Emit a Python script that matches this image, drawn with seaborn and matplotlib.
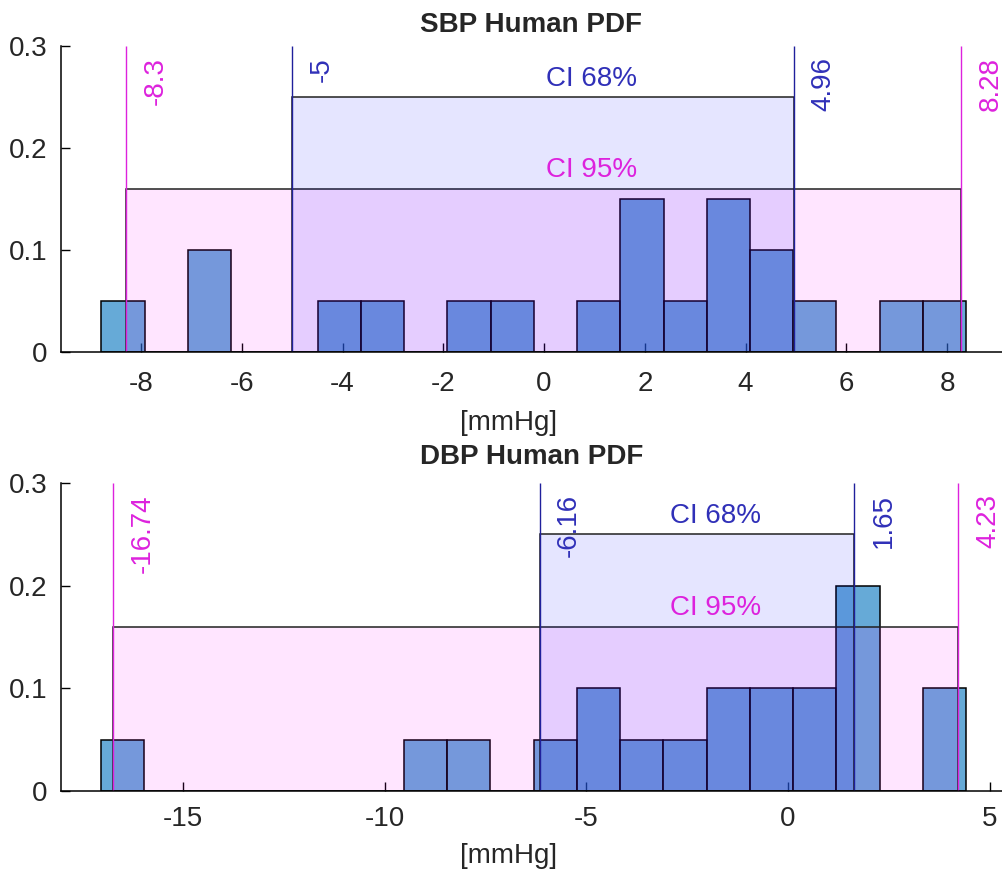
import numpy as np
import pandas as pd
import seaborn as sns
import matplotlib.pyplot as plt
from matplotlib.patches import Rectangle

# histogram probabilities (20 bins each)
sbp_edges_lo, sbp_edges_hi = -8.79, 8.38
sbp_prob = [0.05, 0, 0.10, 0, 0, 0.05, 0.05, 0, 0.05, 0.05,
            0, 0.05, 0.15, 0.05, 0.15, 0.10, 0.05, 0, 0.05, 0.05]
dbp_edges_lo, dbp_edges_hi = -17.04, 4.42
dbp_prob = [0.05, 0, 0, 0, 0, 0, 0, 0.05, 0.05, 0,
            0.05, 0.10, 0.05, 0.05, 0.10, 0.10, 0.10, 0.20, 0, 0.10]

# confidence intervals
sbp_ci68 = [-5, 4.96]
sbp_ci95 = [-8.3, 8.28]
dbp_ci68 = [-6.16, 1.65]
dbp_ci95 = [-16.74, 4.23]
ci68_height = 0.25
ci95_height = 0.16
sbp_ci_label_x = 0.95
dbp_ci_label_x = -1.8

titles = ['SBP Human PDF', 'DBP Human PDF']
sbp_xticks = [-8, -6, -4, -2, 0, 2, 4, 6, 8]
dbp_xticks = [-15, -10, -5, 0, 5]
yticks = [0, 0.1, 0.2, 0.3]
ytick_labels = ['0', '0.1', '0.2', '0.3']

sns.set_style('white')
plt.rcParams['font.family'] = ['Liberation Sans', 'DejaVu Sans']
plt.rcParams['axes.unicode_minus'] = False

BAR = (0, 0.447, 0.741)
BLUE_LINE = '#20209c'
BLUE_TXT = '#3030b8'
MAG = '#dd22dd'

W, H = 1002, 873
fig = plt.figure(figsize=(W / 100, H / 100), dpi=100)
ax1 = fig.add_axes([61 / W, 1 - 352 / H, (W - 61) / W, 306 / H])
ax2 = fig.add_axes([61 / W, 1 - 791 / H, (W - 61) / W, 308 / H])


def draw_panel(ax, lo, hi, prob, ci68, ci95, label_x, xlim, xticks, title,
               title_pad, xlab_y, tick_pad):
    edges = np.linspace(lo, hi, len(prob) + 1)
    df = pd.DataFrame({'center': (edges[:-1] + edges[1:]) / 2, 'prob': prob})
    sns.histplot(data=df, x='center', weights='prob', bins=list(edges), ax=ax,
                 color=BAR, alpha=0.6, edgecolor='black', linewidth=1.1)

    # CI boxes drawn over the bars
    ax.add_patch(Rectangle((ci95[0], 0), ci95[1] - ci95[0], ci95_height,
                           facecolor=(1, 0, 1, 0.1), edgecolor='#202020',
                           linewidth=1.1, zorder=3))
    ax.add_patch(Rectangle((ci68[0], 0), ci68[1] - ci68[0], ci68_height,
                           facecolor=(0, 0, 1, 0.1), edgecolor='#202020',
                           linewidth=1.1, zorder=3))
    ax.vlines(ci95, 0, 0.3, color=MAG, linewidth=1.0, zorder=4)
    ax.vlines(ci68, 0, 0.3, color=BLUE_LINE, linewidth=1.0, zorder=4)

    for v in ci95:
        ax.annotate(f'{v:g}', xy=(v, 0.289), xytext=(12, 0), textcoords='offset points',
                    rotation=90, ha='left', va='top', color=MAG, fontsize=20, zorder=5)
    for v in ci68:
        ax.annotate(f'{v:g}', xy=(v, 0.289), xytext=(12, 0), textcoords='offset points',
                    rotation=90, ha='left', va='top', color=BLUE_TXT, fontsize=20, zorder=5)

    ax.text(label_x, ci68_height + 0.018, 'CI 68%', color=BLUE_TXT, fontsize=20,
            ha='center', va='center', zorder=5)
    ax.text(label_x, ci95_height + 0.018, 'CI 95%', color=MAG, fontsize=20,
            ha='center', va='center', zorder=5)

    ax.set_xlim(xlim)
    ax.set_ylim(0, 0.3)
    ax.set_xticks(xticks)
    ax.set_yticks(yticks)
    ax.set_yticklabels(ytick_labels)
    ax.tick_params(direction='in', length=6.5, width=1, labelsize=20, colors='black',
                   labelcolor='#262626', bottom=True, left=True)
    ax.tick_params(axis='x', pad=tick_pad)
    ax.tick_params(axis='y', pad=10)
    for s in ['top', 'right']:
        ax.spines[s].set_visible(False)
    for s in ['left', 'bottom']:
        ax.spines[s].set_color('black')
        ax.spines[s].set_linewidth(1.1)
        ax.spines[s].set_zorder(6)
    ax.set_ylabel('')
    ax.set_xlabel('[mmHg]', fontsize=20, color='#262626')
    ax.xaxis.set_label_coords((509 - 61) / (W - 61), xlab_y)
    ax.set_title(title, fontsize=20, fontweight='bold', pad=title_pad)
    ax.set_facecolor('white')


draw_panel(ax1, sbp_edges_lo, sbp_edges_hi, sbp_prob, sbp_ci68, sbp_ci95,
           sbp_ci_label_x, (-9.59, 9.09), sbp_xticks, titles[0], 10, -0.19, 14)
draw_panel(ax2, dbp_edges_lo, dbp_edges_hi, dbp_prob, dbp_ci68, dbp_ci95,
           dbp_ci_label_x, (-18.03, 5.31), dbp_xticks, titles[1], 14, -0.168, 11)

fig.savefig('out.png', dpi=100)
